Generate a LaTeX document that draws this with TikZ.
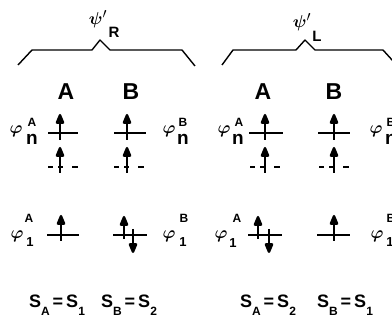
\documentclass[tikz,border=0pt]{standalone}
\usepackage{fontspec}
\setmainfont{Liberation Sans}
\usepackage{amsmath}
\usetikzlibrary{arrows.meta}

\newcommand{\Ssub}[1]{S\raisebox{-0.45em}{\fontsize{12}{12}\selectfont #1}}

\begin{document}
\begin{tikzpicture}[x=1pt, y=-1pt,
  lvl/.style={line width=1.9pt},
  dlvl/.style={line width=1.9pt, dash pattern=on 5pt off 5pt on 5pt off 9pt on 6pt},
  spin/.style={line width=2.4pt, -{Triangle[length=12pt,width=9pt,round]}},
  brace/.style={line width=1.4pt, line join=round},
  site/.style={inner sep=0pt, font=\fontsize{23}{23}\selectfont\bfseries},
  phi/.style={inner sep=0pt, font=\fontsize{16}{16}\selectfont},
  sup/.style={inner sep=0pt, font=\fontsize{12}{12}\selectfont\bfseries},
  subn/.style={inner sep=0pt, font=\fontsize{19}{19}\selectfont\bfseries},
  subone/.style={inner sep=0pt, font=\fontsize{13}{13}\selectfont\bfseries},
  state/.style={inner sep=0pt, font=\fontsize{18}{18}\selectfont\bfseries},
  psi/.style={inner sep=0pt, font=\fontsize{19}{19}\selectfont}]
  \clip (0,0) rectangle (392,329);
  \useasboundingbox (0,0) rectangle (392,329);

  % braces and wave functions
  \draw[brace] (18,65) -- (32,50) -- (92,50) -- (100,40) -- (110,50) -- (182,50) -- (195,66);
  \draw[brace] (222,65) -- (233,50) -- (296,50) -- (305,40) -- (315,50) -- (383,50) -- (393,61);
  \node[psi] (psiR) at (98,19) {$\boldsymbol{\psi}'$};
  \node[site, font=\fontsize{15}{15}\selectfont\bfseries] (R) at (114,32) {R};
  \node[psi] (psiL) at (302,22) {$\boldsymbol{\psi}'$};
  \node[site, font=\fontsize{15}{15}\selectfont\bfseries] (L) at (317,36) {L};

  % site labels
  \node[site] (AR) at (66,92) {A};
  \node[site] (BR) at (131,92) {B};
  \node[site] (AL) at (263,92) {A};
  \node[site] (BL) at (334,92) {B};

  % levels, left panel
  \draw[lvl] (48,133) -- (78,133);
  \draw[lvl] (114,133) -- (146,133);
  \draw[dlvl] (48,167) -- (78,167);
  \draw[dlvl] (114,167) -- (146,167);
  \draw[lvl] (47,235) -- (79,235);
  \draw[lvl] (113,235) -- (147,235);
  % levels, right panel
  \draw[lvl] (249,133) -- (283,133);
  \draw[lvl] (318,133) -- (350,133);
  \draw[dlvl] (250,167) -- (280,167);
  \draw[dlvl] (319,167) -- (349,167);
  \draw[lvl] (248,235) -- (282,235);
  \draw[lvl] (317,235) -- (350,235);

  % spins, left panel
  \draw[spin] (60,140) -- (60,114);
  \draw[spin] (127,140) -- (127,114);
  \draw[spin] (60,173) -- (60,147);
  \draw[spin] (127,173) -- (127,147);
  \draw[spin] (61,241) -- (61,215);
  \draw[spin] (124,239) -- (124,216);
  \draw[spin] (133,229) -- (133,253);
  % spins, right panel
  \draw[spin] (265,140) -- (265,114);
  \draw[spin] (334,140) -- (334,114);
  \draw[spin] (265,173) -- (265,147);
  \draw[spin] (334,173) -- (334,147);
  \draw[spin] (258,239) -- (258,216);
  \draw[spin] (269,229) -- (269,253);
  \draw[spin] (334,241) -- (334,215);

  % orbital labels, left panel
  \node[phi] (phinA1) at (16,131) {$\boldsymbol{\varphi}$};
  \node[sup] (phinA1s) at (32,122) {A};
  \node[subn] (phinA1n) at (32,139) {n};
  \node[phi] (phinB1) at (169,131) {$\boldsymbol{\varphi}$};
  \node[sup] (phinB1s) at (183,122) {B};
  \node[subn] (phinB1n) at (183,139) {n};
  \node[phi] (phi1A1) at (17,236) {$\boldsymbol{\varphi}$};
  \node[sup] (phi1A1s) at (29,218) {A};
  \node[subone] (phi1A1n) at (30,242) {1};
  \node[phi] (phi1B1) at (169,236) {$\boldsymbol{\varphi}$};
  \node[sup] (phi1B1s) at (184,218) {B};
  \node[subone] (phi1B1n) at (183,242) {1};
  % orbital labels, right panel (cut by the edge)
  \node[phi] (phinA2) at (224,131) {$\boldsymbol{\varphi}$};
  \node[sup] (phinA2s) at (239,122) {A};
  \node[subn] (phinA2n) at (238,139) {n};
  \node[phi] (phinB2) at (376,131) {$\boldsymbol{\varphi}$};
  \node[sup] (phinB2s) at (391,122) {B};
  \node[subn] (phinB2n) at (391,139) {n};
  \node[phi] (phi1A2) at (221,236) {$\boldsymbol{\varphi}$};
  \node[sup] (phi1A2s) at (237,218) {A};
  \node[subone] (phi1A2n) at (233,243) {1};
  \node[phi] (phi1B2) at (377,236) {$\boldsymbol{\varphi}$};
  \node[sup] (phi1B2s) at (391,218) {B};
  \node[subone] (phi1B2n) at (390,242) {1};

  % spin states
  \node[state] (sR1) at (57,305) {\Ssub{A}\,=\,\Ssub{1}};
  \node[state] (sR2) at (129,305) {\Ssub{B}\,=\,\Ssub{2}};
  \node[state] (sL1) at (268,305) {\Ssub{A}\,=\,\Ssub{2}};
  \node[state] (sL2) at (345,305) {\Ssub{B}\,=\,\Ssub{1}};
\end{tikzpicture}
\end{document}
